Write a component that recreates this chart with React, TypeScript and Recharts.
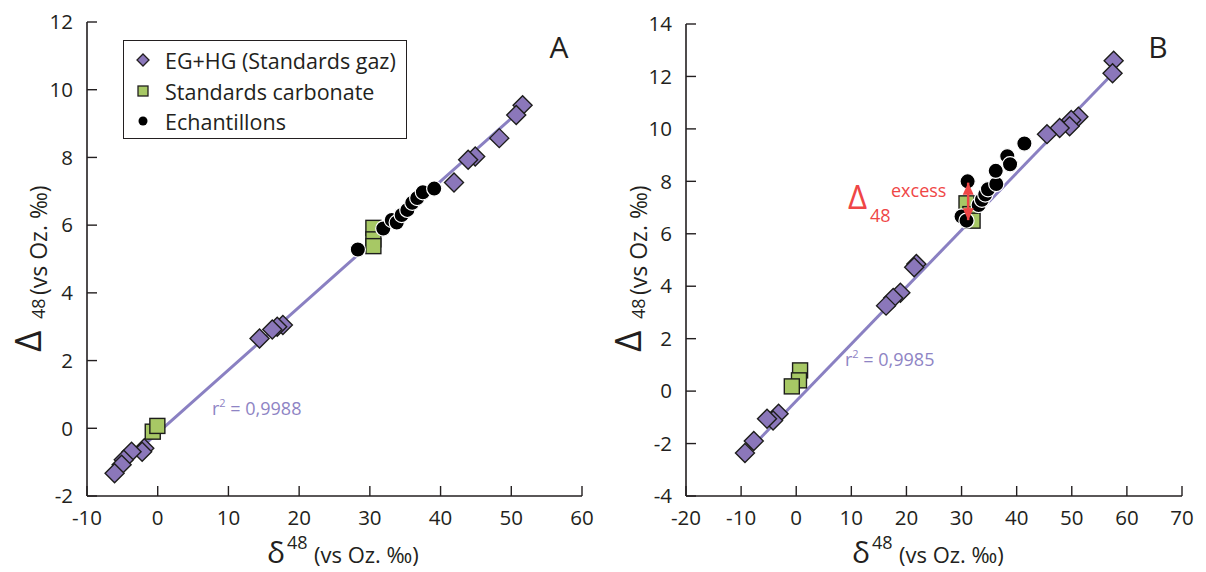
import React from "react";
import { ScatterChart, Scatter, XAxis, YAxis, Legend } from "recharts";

const FONT = "'Open Sans', sans-serif";
const INK = "#231f20";
const PURPLE = "#8b77ba";
const GREEN = "#a7c865";
const FIT = "#8a80c2";
const FIT_TEXT = "#8e84c4";
const RED = "#ef4646";

// ---- panel A ----
const xTicksA = [-10, 0, 10, 20, 30, 40, 50, 60];
const yTicksA = [-2, 0, 2, 4, 6, 8, 10, 12];
const gasA = [
  { x: 51.6, y: 9.54 }, { x: 50.7, y: 9.25 }, { x: 48.3, y: 8.57 },
  { x: 44.9, y: 8.03 }, { x: 43.9, y: 7.93 }, { x: 41.9, y: 7.26 },
  { x: 17.7, y: 3.05 }, { x: 16.9, y: 3.0 }, { x: 16.2, y: 2.92 },
  { x: 14.4, y: 2.65 }, { x: -1.9, y: -0.59 }, { x: -2.2, y: -0.69 },
  { x: -3.7, y: -0.69 }, { x: -4.8, y: -0.93 }, { x: -5.1, y: -1.08 },
  { x: -6.1, y: -1.33 },
];
const carbA = [
  { x: -0.7, y: -0.1 }, { x: -0.05, y: 0.07 },
  { x: 30.5, y: 5.92 }, { x: 30.5, y: 5.58 }, { x: 30.5, y: 5.38 },
];
const sampA = [
  { x: 28.3, y: 5.28 }, { x: 31.9, y: 5.9 }, { x: 33.1, y: 6.15 },
  { x: 33.8, y: 6.08 }, { x: 34.5, y: 6.3 }, { x: 35.3, y: 6.45 },
  { x: 36.0, y: 6.66 }, { x: 36.7, y: 6.8 }, { x: 37.5, y: 6.97 },
  { x: 39.1, y: 7.08 },
];
const fitA = [{ x: -6.0, y: -1.25 }, { x: 51.6, y: 9.45 }];

// ---- panel B ----
const xTicksB = [-20, -10, 0, 10, 20, 30, 40, 50, 60, 70];
const yTicksB = [-4, -2, 0, 2, 4, 6, 8, 10, 12, 14];
const gasB = [
  { x: 57.6, y: 12.6 }, { x: 57.4, y: 12.12 }, { x: 51.2, y: 10.46 },
  { x: 49.9, y: 10.34 }, { x: 49.6, y: 10.1 }, { x: 47.8, y: 10.03 },
  { x: 45.5, y: 9.8 }, { x: 21.8, y: 4.85 }, { x: 21.4, y: 4.72 },
  { x: 18.9, y: 3.75 }, { x: 17.6, y: 3.55 }, { x: 16.3, y: 3.26 },
  { x: -3.2, y: -0.86 }, { x: -4.2, y: -1.12 }, { x: -5.3, y: -1.05 },
  { x: -7.7, y: -1.9 }, { x: -9.3, y: -2.36 },
];
const carbB = [
  { x: 0.7, y: 0.79 }, { x: 0.5, y: 0.41 }, { x: -0.8, y: 0.18 },
  { x: 30.9, y: 7.16 }, { x: 31.6, y: 6.75 }, { x: 32.0, y: 6.5 },
];
const sampB = [
  { x: 31.1, y: 8.0 }, { x: 30.0, y: 6.66 }, { x: 30.9, y: 6.5 },
  { x: 33.1, y: 7.1 }, { x: 33.7, y: 7.3 }, { x: 34.3, y: 7.5 },
  { x: 34.8, y: 7.7 }, { x: 36.3, y: 7.9 }, { x: 36.2, y: 8.4 },
  { x: 38.3, y: 8.96 }, { x: 38.8, y: 8.65 }, { x: 41.4, y: 9.44 },
];
const fitB = [{ x: -9.3, y: -2.4 }, { x: 57.4, y: 12.1 }];
const excessB = [{ x: 31.2, y: 6.52 }, { x: 31.2, y: 7.95 }];

const Diamond = (p: any) => {
  const { cx, cy } = p;
  const r = 9.5;
  return (
    <path
      d={`M${cx},${cy - r}L${cx + r},${cy}L${cx},${cy + r}L${cx - r},${cy}Z`}
      fill={PURPLE}
      stroke="#1d1d1b"
      strokeWidth={1.4}
    />
  );
};

const Square = (p: any) => (
  <rect x={p.cx - 7.5} y={p.cy - 7.5} width={15} height={15} fill={GREEN} stroke="#1d1d1b" strokeWidth={1.4} />
);

const Dot = (p: any) => <circle cx={p.cx} cy={p.cy} r={7.6} fill="#000" stroke="#fff" strokeWidth={1.2} />;

const Nothing = () => <g />;

// arrowheads at both ends of the excess segment
const ArrowHead = (p: any) => {
  const { cx, cy, payload } = p;
  const top = payload.y === Math.max(...excessB.map((d) => d.y));
  const s = top ? 1 : -1;
  return <path d={`M${cx},${cy}L${cx - 5.5},${cy + s * 12}L${cx + 5.5},${cy + s * 12}Z`} fill={RED} />;
};

const LegendBox = () => {
  const rows = [
    { label: "EG+HG (Standards gaz)", mark: <path d="M9,3L15,9L9,15L3,9Z" fill={PURPLE} stroke={INK} strokeWidth={1.3} /> },
    { label: "Standards carbonate", mark: <rect x={4} y={4} width={10} height={10} fill={GREEN} stroke={INK} strokeWidth={1.3} /> },
    { label: "Echantillons", mark: <circle cx={9} cy={9} r={4.5} fill="#000" /> },
  ];
  const centers = [19, 50, 80];
  return (
    <div
      style={{
        position: "relative",
        boxSizing: "border-box",
        width: 284,
        height: 99,
        border: `1.5px solid ${INK}`,
        background: "#fff",
        fontFamily: FONT,
        fontSize: 21.5,
        color: INK,
      }}
    >
      {rows.map((r, i) => (
        <div key={r.label} style={{ position: "absolute", left: 10, top: centers[i] - 15, height: 30, display: "flex", alignItems: "center", whiteSpace: "nowrap" }}>
          <svg width={18} height={18} style={{ marginRight: 13 }}>{r.mark}</svg>
          <span>{r.label}</span>
        </div>
      ))}
    </div>
  );
};

const tickStyle = { fontSize: 20.5, fill: INK, fontFamily: FONT };
const frame = { stroke: INK, strokeWidth: 1.6 };

type PanelProps = {
  width: number;
  margin: { top: number; right: number; bottom: number; left: number };
  xTicks: number[];
  yTicks: number[];
  gas: any[];
  carb: any[];
  samp: any[];
  fit: any[];
  legend?: boolean;
  arrow?: any[];
};

const Panel = ({ width, margin, xTicks, yTicks, gas, carb, samp, fit, legend, arrow }: PanelProps) => {
  const xDomain = [xTicks[0], xTicks[xTicks.length - 1]];
  const yDomain = [yTicks[0], yTicks[yTicks.length - 1]];
  return (
    <ScatterChart width={width} height={572} margin={margin}>
      <XAxis
        type="number"
        dataKey="x"
        domain={xDomain}
        ticks={xTicks}
        interval={0}
        height={50}
        tickSize={-10}
        tickMargin={24}
        tick={tickStyle}
        axisLine={frame}
        tickLine={{ stroke: INK, strokeWidth: 1.4 }}
      />
      <YAxis
        type="number"
        dataKey="y"
        domain={yDomain}
        ticks={yTicks}
        interval={0}
        width={60}
        tickSize={-10}
        tickMargin={24}
        tick={tickStyle}
        axisLine={frame}
        tickLine={{ stroke: INK, strokeWidth: 1.4 }}
      />
      <XAxis xAxisId="top" orientation="top" type="number" domain={xDomain} height={0} tick={false} tickLine={false} axisLine={frame} />
      <YAxis yAxisId="right" orientation="right" type="number" domain={yDomain} width={0} tick={false} tickLine={false} axisLine={frame} />
      {legend && (
        <Legend
          layout="vertical"
          align="center"
          verticalAlign="middle"
          wrapperStyle={{ left: 123, top: 40, width: 284, height: 99 }}
          content={() => <LegendBox />}
        />
      )}
      <Scatter data={fit} line={{ stroke: FIT, strokeWidth: 3 }} shape={Nothing} legendType="none" isAnimationActive={false} />
      <Scatter data={gas} shape={Diamond} isAnimationActive={false} />
      <Scatter data={carb} shape={Square} isAnimationActive={false} />
      <Scatter data={samp} shape={Dot} isAnimationActive={false} />
      {arrow && (
        <Scatter data={arrow} line={{ stroke: RED, strokeWidth: 2.5 }} shape={ArrowHead} legendType="none" isAnimationActive={false} />
      )}
    </ScatterChart>
  );
};

const XTitle = ({ x }: { x: number }) => (
  <g fill={INK}>
    <text x={x} y={563} fontSize={30}>δ</text>
    <text x={x + 20} y={549} fontSize={18}>48</text>
    <text x={x + 47} y={563} fontSize={22}>(vs Oz. ‰)</text>
  </g>
);

const YTitle = ({ y }: { y: number }) => (
  <g fill={INK} transform="rotate(-90)">
    <text x={-352} y={y - 6} fontSize={37}>Δ</text>
    <text x={-319} y={y - 2} fontSize={18}>48</text>
    <text x={-295} y={y} fontSize={23}>(vs Oz. ‰)</text>
  </g>
);

export default function App() {
  return (
    <div style={{ position: "absolute", left: 0, top: 0, width: 1206, height: 572, background: "#fff" }}>
      <div style={{ position: "absolute", left: 0, top: 0 }}>
        <Panel
          width={600}
          margin={{ top: 22, right: 18, bottom: 26, left: 27 }}
          xTicks={xTicksA}
          yTicks={yTicksA}
          gas={gasA}
          carb={carbA}
          samp={sampA}
          fit={fitA}
          legend
        />
      </div>
      <div style={{ position: "absolute", left: 600, top: 0 }}>
        <Panel
          width={606}
          margin={{ top: 24, right: 24, bottom: 26, left: 26 }}
          xTicks={xTicksB}
          yTicks={yTicksB}
          gas={gasB}
          carb={carbB}
          samp={sampB}
          fit={fitB}
          arrow={excessB}
        />
      </div>
      <svg
        width={1206}
        height={572}
        style={{ position: "absolute", left: 0, top: 0, pointerEvents: "none", fontFamily: FONT }}
      >
        <text x={559} y={58} fontSize={30} textAnchor="middle" fill={INK}>A</text>
        <text x={1158} y={58} fontSize={30} textAnchor="middle" fill={INK}>B</text>

        <XTitle x={267} />
        <XTitle x={852} />
        <YTitle y={47} />
        <YTitle y={647} />

        <text x={212} y={415} fontSize={18} fill={FIT_TEXT}>
          r<tspan fontSize={11} dy={-8}>2</tspan>
          <tspan dy={8}> = 0,9988</tspan>
        </text>
        <text x={845} y={366} fontSize={18} fill={FIT_TEXT}>
          r<tspan fontSize={11} dy={-8}>2</tspan>
          <tspan dy={8}> = 0,9985</tspan>
        </text>

        <text x={848} y={209} fontSize={33} fill={RED}>Δ</text>
        <text x={870} y={222} fontSize={18} fill={RED}>48</text>
        <text x={891} y={197} fontSize={18} fill={RED}>excess</text>
      </svg>
    </div>
  );
}
